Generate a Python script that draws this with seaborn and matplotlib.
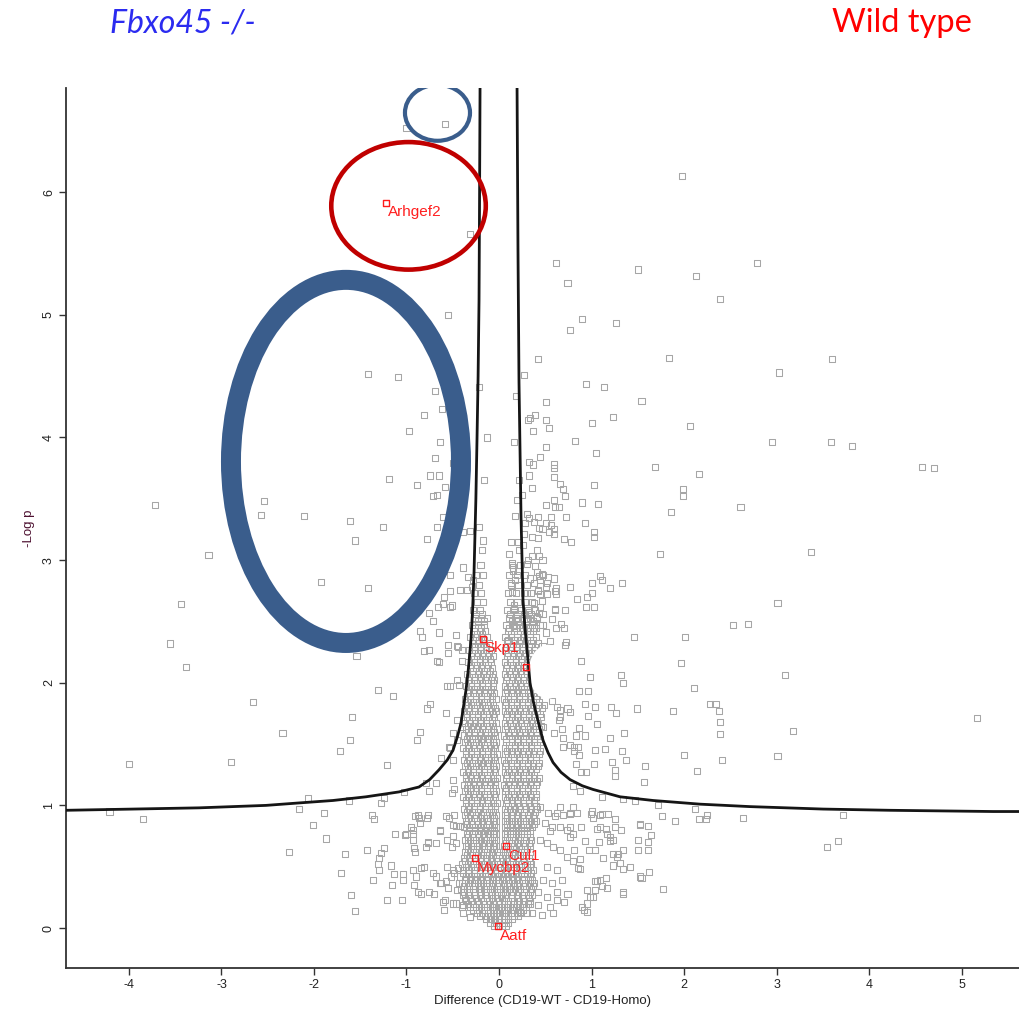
import matplotlib
matplotlib.use("Agg")
import matplotlib.pyplot as plt
import pandas as pd
import seaborn as sns
from matplotlib.patches import Ellipse

# ---------------------------------------------------------------- data
# dense core of the volcano: one list of differences per -log p level
core_levels = [0.02, 0.07, 0.12, 0.17, 0.22, 0.27, 0.32, 0.37, 0.42, 0.47, 0.52, 0.57,
               0.62, 0.67, 0.72, 0.77, 0.82, 0.87, 0.92, 0.97, 1.02, 1.07, 1.12, 1.17,
               1.22, 1.27, 1.32, 1.37, 1.42, 1.47, 1.52, 1.57, 1.62, 1.67, 1.72, 1.77,
               1.82, 1.87, 1.92, 1.97, 2.02, 2.07, 2.12, 2.17, 2.22, 2.27, 2.32, 2.37,
               2.42, 2.47, 2.53, 2.59, 2.66, 2.73, 2.80, 2.88, 2.96]
core_diffs = [
    [-0.05, -0.01, 0.03, 0.07],
    [-0.14, -0.09, -0.04, 0.00, 0.05, 0.10, 0.14],
    [-0.24, -0.18, -0.12, -0.07, -0.02, 0.03, 0.08, 0.13, 0.19, 0.24],
    [-0.31, -0.25, -0.19, -0.13, -0.08, -0.03, 0.02, 0.07, 0.12, 0.18, 0.23, 0.29],
    [-0.36, -0.30, -0.23, -0.17, -0.11, -0.06, 0.00, 0.05, 0.10, 0.16, 0.22, 0.27, 0.33],
    [-0.39, -0.33, -0.27, -0.21, -0.15, -0.09, -0.04, 0.02, 0.07, 0.13, 0.19, 0.25, 0.31, 0.36],
    [-0.41, -0.35, -0.28, -0.22, -0.16, -0.10, -0.05, 0.01, 0.06, 0.12, 0.17, 0.23, 0.29, 0.35],
    [-0.40, -0.34, -0.29, -0.23, -0.17, -0.11, -0.06, 0.00, 0.05, 0.11, 0.16, 0.22, 0.28, 0.34, 0.38],
    [-0.42, -0.36, -0.30, -0.24, -0.18, -0.12, -0.07, -0.01, 0.04, 0.10, 0.15, 0.21, 0.27, 0.33],
    [-0.39, -0.33, -0.27, -0.21, -0.15, -0.10, -0.04, 0.02, 0.08, 0.13, 0.19, 0.25, 0.31, 0.37],
    [-0.40, -0.34, -0.28, -0.22, -0.16, -0.11, -0.05, 0.01, 0.06, 0.12, 0.18, 0.24, 0.30, 0.35],
    [-0.38, -0.32, -0.26, -0.20, -0.14, -0.09, -0.03, 0.03, 0.08, 0.14, 0.20, 0.26, 0.32],
    [-0.37, -0.31, -0.25, -0.19, -0.13, -0.08, -0.02, 0.04, 0.09, 0.15, 0.21, 0.27, 0.33],
    [-0.36, -0.30, -0.24, -0.18, -0.12, -0.07, -0.03, 0.05, 0.10, 0.16, 0.22, 0.28, 0.34],
    [-0.37, -0.31, -0.25, -0.19, -0.14, -0.08, -0.03, 0.06, 0.11, 0.17, 0.23, 0.29, 0.35],
    [-0.35, -0.29, -0.23, -0.17, -0.12, -0.07, -0.03, 0.06, 0.12, 0.18, 0.24, 0.30],
    [-0.38, -0.32, -0.26, -0.20, -0.14, -0.08, -0.03, 0.07, 0.12, 0.18, 0.24, 0.30, 0.36],
    [-0.36, -0.30, -0.24, -0.18, -0.13, -0.07, -0.03, 0.06, 0.11, 0.17, 0.23, 0.29, 0.35, 0.40],
    [-0.37, -0.31, -0.25, -0.19, -0.13, -0.08, -0.03, 0.07, 0.13, 0.19, 0.25, 0.31, 0.37],
    [-0.38, -0.32, -0.27, -0.21, -0.15, -0.09, -0.04, 0.06, 0.12, 0.17, 0.23, 0.29, 0.35, 0.41],
    [-0.36, -0.30, -0.24, -0.18, -0.12, -0.06, -0.02, 0.08, 0.14, 0.20, 0.26, 0.32, 0.38],
    [-0.39, -0.33, -0.27, -0.21, -0.16, -0.10, -0.04, 0.06, 0.11, 0.17, 0.23, 0.29, 0.35, 0.40],
    [-0.37, -0.31, -0.25, -0.19, -0.13, -0.07, -0.03, 0.07, 0.13, 0.19, 0.25, 0.31, 0.37],
    [-0.38, -0.33, -0.28, -0.22, -0.16, -0.10, -0.04, 0.05, 0.10, 0.16, 0.22, 0.28, 0.34, 0.40],
    [-0.36, -0.30, -0.24, -0.18, -0.12, -0.06, -0.02, 0.08, 0.14, 0.20, 0.26, 0.32, 0.38, 0.43],
    [-0.39, -0.34, -0.28, -0.22, -0.16, -0.10, -0.04, 0.06, 0.11, 0.17, 0.23, 0.29, 0.35],
    [-0.37, -0.31, -0.25, -0.19, -0.13, -0.07, -0.03, 0.07, 0.13, 0.19, 0.25, 0.31, 0.37, 0.42],
    [-0.38, -0.32, -0.26, -0.20, -0.15, -0.09, -0.04, 0.05, 0.10, 0.16, 0.22, 0.28, 0.34, 0.40],
    [-0.36, -0.30, -0.24, -0.18, -0.12, -0.06, -0.02, 0.07, 0.13, 0.19, 0.25, 0.31, 0.37, 0.43],
    [-0.39, -0.33, -0.27, -0.21, -0.15, -0.09, -0.04, 0.06, 0.11, 0.17, 0.23, 0.29, 0.35, 0.41],
    [-0.37, -0.31, -0.25, -0.19, -0.13, -0.07, -0.03, 0.08, 0.14, 0.20, 0.26, 0.32, 0.38, 0.44],
    [-0.38, -0.32, -0.26, -0.20, -0.15, -0.09, -0.04, 0.05, 0.11, 0.17, 0.23, 0.29, 0.35, 0.41],
    [-0.36, -0.30, -0.24, -0.18, -0.12, -0.06, -0.02, 0.07, 0.13, 0.19, 0.25, 0.31, 0.37, 0.43],
    [-0.37, -0.31, -0.26, -0.20, -0.14, -0.08, -0.03, 0.06, 0.12, 0.18, 0.24, 0.30, 0.36, 0.42],
    [-0.35, -0.29, -0.23, -0.17, -0.11, -0.05, 0.08, 0.14, 0.20, 0.26, 0.32, 0.38, 0.45],
    [-0.38, -0.32, -0.26, -0.20, -0.14, -0.08, -0.03, 0.06, 0.11, 0.17, 0.23, 0.29, 0.35, 0.41],
    [-0.36, -0.30, -0.24, -0.18, -0.12, -0.06, 0.07, 0.13, 0.19, 0.25, 0.31, 0.37, 0.43, 0.49],
    [-0.37, -0.31, -0.25, -0.19, -0.13, -0.08, -0.03, 0.05, 0.10, 0.16, 0.22, 0.28, 0.34, 0.40],
    [-0.34, -0.28, -0.22, -0.16, -0.10, -0.05, 0.07, 0.13, 0.19, 0.25, 0.31, 0.37, 0.44],
    [-0.36, -0.30, -0.24, -0.18, -0.12, -0.06, 0.06, 0.12, 0.18, 0.24, 0.30, 0.36, 0.42, 0.48],
    [-0.33, -0.27, -0.21, -0.15, -0.09, -0.05, 0.08, 0.14, 0.20, 0.26, 0.32, 0.38, 0.44],
    [-0.35, -0.29, -0.23, -0.17, -0.11, -0.06, 0.06, 0.12, 0.18, 0.24, 0.30, 0.36, 0.42],
    [-0.31, -0.25, -0.19, -0.13, -0.08, 0.08, 0.14, 0.20, 0.26, 0.33, 0.39, 0.46],
    [-0.33, -0.27, -0.21, -0.15, -0.09, 0.06, 0.12, 0.18, 0.24, 0.30, 0.37, 0.43],
    [-0.30, -0.24, -0.18, -0.12, -0.07, 0.09, 0.15, 0.21, 0.27, 0.34, 0.40],
    [-0.32, -0.26, -0.20, -0.14, -0.09, 0.07, 0.13, 0.19, 0.25, 0.32, 0.38, 0.45],
    [-0.29, -0.23, -0.17, -0.11, 0.09, 0.15, 0.22, 0.28, 0.35, 0.42],
    [-0.31, -0.25, -0.19, -0.13, 0.07, 0.13, 0.20, 0.26, 0.33, 0.40],
    [-0.27, -0.21, -0.15, 0.10, 0.16, 0.23, 0.30, 0.37],
    [-0.29, -0.23, -0.16, 0.08, 0.15, 0.22, 0.29, 0.36, 0.44],
    [-0.26, -0.19, -0.13, 0.11, 0.18, 0.25, 0.33, 0.41],
    [-0.28, -0.21, 0.09, 0.16, 0.24, 0.31, 0.39],
    [-0.24, -0.17, 0.12, 0.20, 0.28, 0.36],
    [-0.27, -0.19, 0.10, 0.18, 0.27, 0.35],
    [-0.22, 0.13, 0.21, 0.30],
    [-0.25, -0.17, 0.11, 0.19, 0.28],
    [-0.20, 0.14, 0.23],
]

# second, staggered set of core levels filling between the first
core_levels_b = [0.045, 0.095, 0.145, 0.195, 0.245, 0.295, 0.345, 0.395, 0.445, 0.495,
                 0.545, 0.595, 0.645, 0.695, 0.745, 0.795, 0.845, 0.895, 0.945, 0.995,
                 1.045, 1.095, 1.145, 1.195, 1.245, 1.295, 1.345, 1.395, 1.445, 1.495,
                 1.545, 1.595, 1.645, 1.695, 1.745, 1.795, 1.845, 1.895, 1.945, 1.995,
                 2.045, 2.095, 2.145, 2.195, 2.245, 2.295, 2.345, 2.395, 2.445, 2.50, 2.56]
core_diffs_b = [
    [-0.10, -0.05, 0.00, 0.05, 0.10],
    [-0.20, -0.15, -0.10, -0.05, 0.00, 0.05, 0.10, 0.16, 0.21],
    [-0.28, -0.22, -0.16, -0.10, -0.05, 0.00, 0.05, 0.10, 0.15, 0.21, 0.26],
    [-0.34, -0.28, -0.22, -0.16, -0.10, -0.05, 0.00, 0.05, 0.10, 0.15, 0.20, 0.26, 0.31],
    [-0.37, -0.31, -0.25, -0.19, -0.13, -0.08, -0.02, 0.03, 0.08, 0.14, 0.20, 0.26, 0.32],
    [-0.38, -0.32, -0.26, -0.20, -0.14, -0.08, -0.02, 0.04, 0.09, 0.15, 0.21, 0.27, 0.33],
    [-0.38, -0.32, -0.26, -0.20, -0.14, -0.08, -0.02, 0.04, 0.09, 0.15, 0.20, 0.26, 0.32, 0.37],
    [-0.37, -0.31, -0.26, -0.20, -0.14, -0.08, -0.03, 0.03, 0.08, 0.14, 0.19, 0.25, 0.31, 0.36],
    [-0.39, -0.33, -0.27, -0.21, -0.15, -0.09, -0.04, 0.02, 0.07, 0.13, 0.18, 0.24, 0.30, 0.35],
    [-0.36, -0.30, -0.24, -0.18, -0.12, -0.07, -0.01, 0.05, 0.10, 0.16, 0.22, 0.28, 0.34],
    [-0.37, -0.31, -0.25, -0.19, -0.13, -0.08, -0.02, 0.04, 0.09, 0.15, 0.21, 0.27, 0.33],
    [-0.35, -0.29, -0.23, -0.17, -0.11, -0.06, 0.00, 0.06, 0.11, 0.17, 0.23, 0.29],
    [-0.34, -0.28, -0.22, -0.16, -0.10, -0.05, 0.07, 0.12, 0.18, 0.24, 0.30],
    [-0.34, -0.28, -0.22, -0.16, -0.11, -0.05, 0.08, 0.14, 0.20, 0.26, 0.32],
    [-0.34, -0.28, -0.22, -0.16, -0.10, -0.05, 0.09, 0.15, 0.21, 0.27, 0.33],
    [-0.32, -0.26, -0.20, -0.15, -0.10, -0.05, 0.09, 0.15, 0.21, 0.27, 0.33],
    [-0.35, -0.29, -0.23, -0.17, -0.11, -0.05, 0.09, 0.14, 0.20, 0.26, 0.32, 0.38],
    [-0.33, -0.27, -0.21, -0.16, -0.10, -0.05, 0.09, 0.14, 0.20, 0.26, 0.32, 0.38],
    [-0.35, -0.29, -0.23, -0.17, -0.11, -0.06, 0.09, 0.15, 0.21, 0.27, 0.33, 0.39],
    [-0.33, -0.27, -0.21, -0.15, -0.09, -0.04, 0.10, 0.16, 0.22, 0.28, 0.34, 0.40],
    [-0.36, -0.30, -0.24, -0.18, -0.13, -0.07, 0.09, 0.14, 0.20, 0.26, 0.32, 0.38],
    [-0.34, -0.28, -0.22, -0.16, -0.10, -0.05, 0.10, 0.16, 0.22, 0.28, 0.34, 0.40],
    [-0.35, -0.30, -0.25, -0.19, -0.13, -0.07, 0.08, 0.13, 0.19, 0.25, 0.31, 0.37],
    [-0.33, -0.27, -0.21, -0.15, -0.09, -0.04, 0.11, 0.17, 0.23, 0.29, 0.35, 0.41],
    [-0.36, -0.31, -0.25, -0.19, -0.13, -0.07, 0.09, 0.14, 0.20, 0.26, 0.32, 0.38],
    [-0.34, -0.28, -0.22, -0.16, -0.10, -0.05, 0.10, 0.16, 0.22, 0.28, 0.34, 0.40],
    [-0.35, -0.29, -0.23, -0.17, -0.12, -0.06, 0.08, 0.13, 0.19, 0.25, 0.31, 0.37, 0.43],
    [-0.33, -0.27, -0.21, -0.15, -0.09, -0.05, 0.10, 0.16, 0.22, 0.28, 0.34, 0.40],
    [-0.36, -0.30, -0.24, -0.18, -0.12, -0.06, 0.09, 0.14, 0.20, 0.26, 0.32, 0.38, 0.44],
    [-0.34, -0.28, -0.22, -0.16, -0.10, -0.05, 0.11, 0.17, 0.23, 0.29, 0.35, 0.41],
    [-0.35, -0.29, -0.23, -0.17, -0.12, -0.06, 0.08, 0.14, 0.20, 0.26, 0.32, 0.38, 0.44],
    [-0.33, -0.27, -0.21, -0.15, -0.09, -0.05, 0.10, 0.16, 0.22, 0.28, 0.34, 0.40],
    [-0.34, -0.28, -0.23, -0.17, -0.11, -0.06, 0.09, 0.15, 0.21, 0.27, 0.33, 0.39, 0.45],
    [-0.32, -0.26, -0.20, -0.14, -0.08, 0.11, 0.17, 0.23, 0.29, 0.35, 0.41],
    [-0.35, -0.29, -0.23, -0.17, -0.11, -0.06, 0.09, 0.14, 0.20, 0.26, 0.32, 0.38, 0.44],
    [-0.33, -0.27, -0.21, -0.15, -0.09, -0.04, 0.10, 0.16, 0.22, 0.28, 0.34, 0.40, 0.46],
    [-0.34, -0.28, -0.22, -0.16, -0.10, 0.08, 0.13, 0.19, 0.25, 0.31, 0.37, 0.43],
    [-0.31, -0.25, -0.19, -0.13, -0.08, 0.10, 0.16, 0.22, 0.28, 0.34, 0.41],
    [-0.33, -0.27, -0.21, -0.15, -0.09, 0.09, 0.15, 0.21, 0.27, 0.33, 0.39, 0.45],
    [-0.30, -0.24, -0.18, -0.12, -0.07, 0.11, 0.17, 0.23, 0.29, 0.35, 0.41],
    [-0.32, -0.26, -0.20, -0.14, -0.08, 0.09, 0.15, 0.21, 0.27, 0.33, 0.39],
    [-0.28, -0.22, -0.16, -0.10, 0.11, 0.17, 0.23, 0.30, 0.36, 0.43],
    [-0.30, -0.24, -0.18, -0.12, 0.09, 0.15, 0.21, 0.27, 0.34, 0.40],
    [-0.27, -0.21, -0.15, -0.10, 0.12, 0.18, 0.24, 0.31, 0.37],
    [-0.29, -0.23, -0.17, -0.11, 0.10, 0.16, 0.22, 0.29, 0.35, 0.42],
    [-0.26, -0.20, -0.14, 0.12, 0.19, 0.25, 0.32, 0.39],
    [-0.28, -0.22, -0.16, 0.10, 0.17, 0.23, 0.30, 0.37],
    [-0.24, -0.18, 0.13, 0.20, 0.27, 0.34],
    [-0.26, -0.19, 0.11, 0.18, 0.26, 0.33, 0.40],
    [-0.23, -0.16, 0.14, 0.21, 0.29, 0.37],
    [-0.25, -0.18, 0.12, 0.20, 0.27, 0.35],
]

# proteins away from the core: (difference, -log p)
top_points = [(-1.00, 6.52), (-0.58, 6.56), (-0.31, 5.66), (1.98, 6.13)]

right_upper = [
    (0.62, 5.42), (1.50, 5.37), (2.13, 5.32), (2.79, 5.42), (0.74, 5.26), (2.39, 5.13),
    (0.90, 4.97), (1.26, 4.93), (0.77, 4.88), (0.42, 4.64), (1.84, 4.65), (3.60, 4.64),
    (0.27, 4.51), (3.03, 4.53), (0.18, 4.34), (0.94, 4.44), (1.13, 4.41), (0.51, 4.29),
    (1.54, 4.30), (0.39, 4.18), (0.34, 4.16), (0.31, 4.14), (0.51, 4.14), (1.23, 4.17),
    (1.01, 4.12), (2.06, 4.09), (0.54, 4.08), (0.37, 4.05), (0.16, 3.96), (0.82, 3.97),
    (2.95, 3.96), (3.59, 3.96), (3.81, 3.93), (0.51, 3.92), (1.05, 3.87), (0.44, 3.84),
    (0.32, 3.80), (0.37, 3.78), (0.59, 3.78), (0.59, 3.75), (1.69, 3.76), (4.57, 3.76),
    (4.70, 3.75), (0.32, 3.69), (0.59, 3.68), (2.16, 3.70), (0.22, 3.65), (0.66, 3.62),
    (0.69, 3.58), (0.36, 3.59), (1.03, 3.61), (1.99, 3.58), (1.99, 3.52), (0.25, 3.53),
    (0.71, 3.52), (0.19, 3.49), (0.59, 3.49), (0.51, 3.45), (0.61, 3.43), (0.65, 3.43),
    (0.90, 3.47), (1.07, 3.46), (2.61, 3.43), (1.86, 3.39), (0.17, 3.36), (0.30, 3.38),
    (0.32, 3.34), (0.42, 3.35), (0.56, 3.35), (0.72, 3.35), (0.28, 3.30), (0.38, 3.31),
    (0.51, 3.30), (0.56, 3.29), (0.93, 3.30), (0.43, 3.26), (0.47, 3.25), (0.59, 3.25),
    (0.54, 3.23), (0.59, 3.21), (1.03, 3.23), (1.03, 3.19), (0.27, 3.21), (0.36, 3.19),
    (0.42, 3.18), (0.70, 3.17), (0.78, 3.15), (0.13, 3.15), (0.21, 3.15), (0.26, 3.12),
    (0.22, 3.08), (0.41, 3.08), (0.11, 3.05), (1.74, 3.05), (3.37, 3.07), (0.43, 3.03),
    (0.36, 3.03), (0.47, 3.00), (0.14, 2.98), (0.31, 3.00), (0.30, 2.97), (0.39, 2.95),
    (0.15, 2.94), (0.15, 2.91), (0.21, 2.91), (0.41, 2.90), (0.46, 2.89), (0.43, 2.87),
    (0.59, 2.85), (0.34, 2.85), (1.09, 2.87), (1.11, 2.84), (0.17, 2.84), (1.00, 2.81),
    (1.33, 2.81), (0.13, 2.81), (0.38, 2.81), (0.51, 2.78), (0.62, 2.77), (0.77, 2.78),
    (1.20, 2.77), (0.42, 2.75), (0.61, 2.75), (0.14, 2.74), (1.00, 2.73), (0.30, 2.73),
    (0.44, 2.72), (0.62, 2.72), (0.95, 2.70), (0.84, 2.68), (0.38, 2.65), (0.16, 2.63),
    (0.16, 2.60), (0.94, 2.62), (1.03, 2.62), (3.01, 2.65), (0.61, 2.59), (0.71, 2.59),
    (0.32, 2.58), (0.43, 2.57), (0.47, 2.56), (0.19, 2.53), (0.41, 2.54), (0.31, 2.52),
    (2.53, 2.47), (2.69, 2.48), (0.62, 2.45), (0.70, 2.45), (0.47, 2.47), (0.16, 2.46),
    (0.38, 2.45), (1.46, 2.37), (2.01, 2.37), (0.71, 2.31), (0.51, 2.41), (0.09, 2.34),
    (0.55, 2.34), (0.47, 2.30), (0.48, 2.88), (0.53, 2.86), (0.44, 2.84), (0.52, 2.81),
    (0.42, 2.76), (0.52, 2.72), (0.46, 2.67), (0.61, 2.60), (0.44, 2.62), (0.57, 2.52),
    (0.67, 2.48), (0.72, 2.33),
]

right_lower = [
    (0.89, 2.18), (1.97, 2.16), (3.09, 2.06), (0.98, 2.05), (1.32, 2.06), (1.34, 2.00),
    (2.11, 1.96), (0.86, 1.93), (0.96, 1.93), (0.93, 1.83), (1.04, 1.80), (1.21, 1.80),
    (1.26, 1.75), (1.49, 1.79), (1.88, 1.77), (2.28, 1.83), (2.34, 1.83), (2.38, 1.77),
    (5.17, 1.71), (0.66, 1.78), (0.77, 1.76), (0.96, 1.73), (0.65, 1.70), (2.39, 1.68),
    (1.06, 1.66), (0.86, 1.63), (0.68, 1.62), (3.18, 1.61), (2.39, 1.58), (1.35, 1.59),
    (0.83, 1.57), (0.93, 1.57), (1.20, 1.55), (0.69, 1.55), (0.77, 1.49), (0.81, 1.48),
    (0.85, 1.48), (0.69, 1.48), (1.04, 1.45), (1.15, 1.46), (1.33, 1.44), (0.81, 1.44),
    (0.86, 1.41), (2.00, 1.41), (3.01, 1.40), (2.41, 1.37), (1.37, 1.37), (1.22, 1.35),
    (1.03, 1.34), (0.83, 1.34), (1.58, 1.32), (1.25, 1.29), (1.25, 1.24), (2.14, 1.28),
    (0.89, 1.27), (0.94, 1.27), (1.57, 1.19), (0.80, 1.16), (0.88, 1.12), (1.11, 1.07),
    (1.34, 1.05), (1.47, 1.04), (1.72, 1.00), (2.12, 0.97), (3.72, 0.92), (2.64, 0.90),
    (1.76, 0.91), (1.90, 0.87), (2.16, 0.89), (2.24, 0.89), (2.25, 0.92), (0.66, 0.99),
    (0.77, 0.93), (0.84, 0.94), (0.99, 0.93), (1.11, 0.93), (1.18, 0.93), (0.61, 0.91),
    (1.02, 0.90), (1.25, 0.89), (3.54, 0.66), (3.66, 0.71), (1.52, 0.85), (1.61, 0.83),
    (0.77, 0.82), (0.89, 0.82), (1.06, 0.81), (1.16, 0.81), (1.25, 0.82), (1.32, 0.80),
    (0.55, 0.79), (1.64, 0.76), (1.61, 0.70), (1.50, 0.64), (1.34, 0.64), (1.20, 0.74),
    (1.20, 0.71), (1.08, 0.70), (0.93, 0.71), (0.77, 0.74), (0.81, 0.64), (0.97, 0.64),
    (1.04, 0.64), (0.88, 0.56), (1.12, 0.57), (1.23, 0.60), (1.29, 0.60), (1.23, 0.51),
    (1.34, 0.48), (1.62, 0.46), (1.54, 0.41), (1.34, 0.28), (1.77, 0.32), (1.04, 0.38),
    (1.06, 0.38), (1.16, 0.41), (1.11, 0.34), (0.85, 0.49), (0.88, 0.48), (1.04, 0.31),
    (0.95, 0.20), (0.92, 0.15), (0.98, 0.25), (0.74, 0.28), (0.70, 0.21), (0.63, 0.23),
    (0.58, 0.12), (0.46, 0.11), (0.36, 0.12), (0.57, 1.85), (0.63, 1.80), (0.74, 1.79),
    (0.66, 1.72), (0.48, 1.64), (0.59, 1.59), (0.44, 1.52),
    (0.44, 0.99), (0.53, 0.94), (0.63, 0.94), (0.69, 0.92), (0.77, 0.94), (0.80, 0.99),
    (1.00, 0.95), (1.09, 0.92), (0.50, 0.86), (0.57, 0.82), (0.66, 0.82), (0.73, 0.80),
    (0.80, 0.77), (0.44, 0.72), (0.52, 0.69), (0.58, 0.66), (0.66, 0.64), (0.73, 0.58),
    (0.80, 0.55), (0.52, 0.50), (0.63, 0.47), (0.48, 0.39), (0.57, 0.37), (0.68, 0.39),
    (0.42, 0.29), (0.52, 0.25), (0.63, 0.29), (0.34, 0.20), (0.42, 0.19), (0.55, 0.17),
    (0.23, 0.13), (0.30, 0.12), (1.09, 0.82), (1.17, 0.77), (1.23, 0.72), (1.28, 0.58),
    (1.31, 0.53), (1.42, 0.50), (1.09, 0.39), (1.17, 0.33), (0.95, 0.31), (1.02, 0.25),
    (0.90, 0.17), (0.95, 0.13), (1.52, 0.84), (1.61, 0.64), (1.50, 0.72), (1.52, 0.42),
    (1.34, 0.29),
]

left_upper = [
    (-3.72, 3.45), (-3.14, 3.04), (-3.44, 2.64), (-3.56, 2.32), (-3.38, 2.13), (-4.00, 1.34),
    (-2.90, 1.35), (-2.66, 1.84), (-2.34, 1.59), (-4.21, 0.95), (-3.85, 0.89),
    (-2.54, 3.48), (-2.57, 3.37), (-2.11, 3.36), (-1.61, 3.32), (-1.25, 3.27), (-1.56, 3.16),
    (-1.92, 2.82), (-1.42, 2.77), (-1.54, 2.22), (-1.31, 1.94), (-1.15, 1.89), (-1.59, 1.72),
    (-1.61, 1.53), (-1.72, 1.44), (-1.21, 1.33), (-1.42, 4.52), (-1.09, 4.49), (-0.97, 4.05),
    (-1.19, 3.66), (-0.89, 3.61), (-0.55, 5.00), (-0.22, 4.41), (-0.13, 4.00), (-0.16, 3.65),
    (-0.69, 4.38), (-0.62, 4.23), (-0.81, 4.18), (-0.64, 3.96), (-0.69, 3.83), (-0.75, 3.69),
    (-0.65, 3.69), (-0.58, 3.60), (-0.71, 3.52), (-0.67, 3.53), (-0.61, 3.35), (-0.67, 3.27),
    (-0.78, 3.17), (-0.50, 3.79), (-0.39, 3.23), (-0.31, 3.24), (-0.22, 3.27), (-0.17, 3.16),
    (-0.18, 3.08), (-0.85, 1.60), (-0.89, 1.53), (-0.78, 1.79), (-0.75, 1.83), (-0.57, 1.75),
    (-0.63, 1.39), (-0.85, 2.42), (-0.83, 2.37), (-0.65, 2.41), (-0.81, 2.26), (-0.76, 2.27),
    (-0.67, 2.18), (-0.65, 2.17), (-0.55, 2.31), (-0.55, 2.24), (-0.44, 2.29), (-0.59, 2.70),
    (-0.53, 2.75), (-0.76, 2.57), (-0.66, 2.62), (-0.51, 2.63), (-0.46, 2.39), (-0.56, 1.97),
    (-0.53, 1.97), (-0.45, 2.02), (-0.79, 1.18), (-0.76, 1.12), (-0.68, 1.18), (-0.54, 1.48),
    (-0.50, 1.37), (-0.53, 2.88), (-0.39, 2.94), (-0.34, 2.86), (-0.28, 2.84), (-0.42, 2.76),
    (-0.35, 2.76), (-0.29, 2.78), (-0.61, 2.64), (-0.53, 2.62), (-0.71, 2.50), (-0.45, 2.30),
    (-0.40, 2.27), (-0.40, 2.18), (-0.43, 1.98), (-0.45, 1.70), (-0.40, 1.64), (-0.50, 1.59),
    (-0.45, 1.53), (-0.53, 1.47), (-0.50, 1.21), (-0.49, 1.13), (-0.51, 1.10),
]

left_lower = [
    (-1.03, 1.11), (-1.28, 1.02), (-1.24, 1.06), (-1.62, 1.04), (-2.06, 1.06), (-2.16, 0.97),
    (-1.89, 0.94), (-2.01, 0.84), (-1.87, 0.73), (-1.37, 0.92), (-1.35, 0.89), (-2.27, 0.62),
    (-1.66, 0.60), (-1.71, 0.45), (-1.60, 0.27), (-1.56, 0.14), (-1.43, 0.64), (-1.36, 0.39),
    (-1.30, 0.47), (-1.31, 0.52), (-1.30, 0.57), (-1.28, 0.61), (-1.24, 0.65), (-1.21, 0.23),
    (-1.05, 0.23), (-1.17, 0.51), (-1.14, 0.44), (-1.16, 0.35), (-1.04, 0.44), (-1.04, 0.39),
    (-1.12, 0.77), (-1.02, 0.76), (-0.95, 0.82), (-0.93, 0.77), (-0.93, 0.72), (-0.91, 0.91),
    (-0.86, 0.90), (-0.85, 0.86), (-0.77, 0.92), (-0.92, 0.65), (-0.91, 0.62), (-0.79, 0.66),
    (-0.77, 0.70), (-0.68, 0.69), (-0.93, 0.47), (-0.90, 0.42), (-0.84, 0.49), (-0.81, 0.50),
    (-0.92, 0.35), (-0.88, 0.29), (-0.84, 0.28), (-0.76, 0.29), (-0.70, 0.28), (-0.61, 0.21),
    (-0.59, 0.15), (-0.71, 0.45), (-0.68, 0.42), (-0.63, 0.37), (-0.57, 0.38), (-0.52, 0.42),
    (-0.49, 0.45), (-0.44, 0.49), (-0.54, 0.90), (-0.49, 0.92), (-0.50, 0.84), (-0.46, 0.83),
    (-0.42, 0.83), (-0.64, 0.79), (-0.50, 0.75), (-0.46, 0.69), (-0.57, 0.91), (-0.46, 0.20),
    (-0.39, 0.19), (-0.39, 0.12), (-0.36, 0.23), (-0.43, 0.37), (-0.39, 0.29), (-0.88, 0.92),
    (-0.78, 0.90), (-0.93, 0.80), (-1.00, 0.77), (-0.77, 0.69), (-0.64, 0.80), (-0.56, 0.72),
    (-0.51, 0.66), (-0.56, 0.50), (-0.50, 0.47), (-0.64, 0.37), (-0.55, 0.33), (-0.45, 0.31),
    (-0.58, 0.23), (-0.50, 0.20), (-0.40, 0.17), (-0.31, 0.09),
]

# highlighted proteins
hit_genes = ["Arhgef2", "Skp1", "", "Cul1", "Mycbp2", "Aatf"]
hit_diff = [-1.225, -0.176, 0.292, 0.076, -0.259, -0.011]
hit_logp = [5.915, 2.36, 2.13, 0.671, 0.568, 0.016]

# significance threshold curves (FDR lines)
left_curve_x = [-0.205, -0.210, -0.216, -0.226, -0.238, -0.250, -0.270, -0.285, -0.303,
                -0.330, -0.357, -0.411, -0.450, -0.497, -0.560, -0.649, -0.750, -0.865,
                -1.081, -1.438, -1.795, -2.162, -2.519, -3.243, -3.957, -4.68]
left_curve_y = [6.85, 6.00, 5.12, 4.50, 3.98, 3.50, 2.90, 2.60, 2.35, 2.12, 1.94, 1.67,
                1.56, 1.45, 1.37, 1.29, 1.21, 1.15, 1.11, 1.07, 1.04, 1.02, 1.00, 0.98,
                0.97, 0.96]
right_curve_x = [0.195, 0.205, 0.216, 0.238, 0.259, 0.280, 0.303, 0.335, 0.370, 0.411,
                 0.476, 0.530, 0.584, 0.670, 0.768, 0.900, 1.016, 1.308, 1.665, 2.173,
                 2.714, 3.503, 4.227, 5.341, 5.62]
right_curve_y = [6.85, 5.53, 4.45, 3.35, 2.68, 2.45, 2.27, 2.00, 1.85, 1.72, 1.53, 1.43,
                 1.35, 1.27, 1.21, 1.16, 1.13, 1.07, 1.04, 1.01, 0.99, 0.97, 0.96, 0.95, 0.95]

x_ticks = [-4, -3, -2, -1, 0, 1, 2, 3, 4, 5]
y_ticks = [0, 1, 2, 3, 4, 5, 6]

# ---------------------------------------------------------------- frame
rows = []
for levels, diffs in ((core_levels, core_diffs), (core_levels_b, core_diffs_b)):
    for lvl, xs in zip(levels, diffs):
        rows += [(x, lvl) for x in xs]
for group in (top_points, right_upper, right_lower, left_upper, left_lower):
    rows += list(group)
proteins = pd.DataFrame(rows, columns=["difference", "neglogp"])

sns.set_theme(style="white")
plt.rcParams["font.family"] = ["Liberation Sans", "DejaVu Sans"]

W, H = 1019, 1013
fig = plt.figure(figsize=(W / 100, H / 100), dpi=100)
ax = fig.add_axes([66 / W, 45 / H, (W - 66) / W, 880 / H])

sns.scatterplot(data=proteins, x="difference", y="neglogp", marker="s", s=19,
                facecolors="none", edgecolors="#a6a6a6", linewidths=0.75,
                ax=ax, zorder=2)

# white patch hiding an erased label
ax.add_patch(Ellipse((0.53, 2.09), 0.42, 0.44, facecolor="white", edgecolor="none", zorder=2.5))

sns.lineplot(x=left_curve_x, y=left_curve_y, sort=False, estimator=None,
             color="#151515", lw=2.0, ax=ax, zorder=3)
sns.lineplot(x=right_curve_x, y=right_curve_y, sort=False, estimator=None,
             color="#151515", lw=2.0, ax=ax, zorder=3)

sns.scatterplot(x=hit_diff, y=hit_logp, marker="s", s=19, facecolors="none",
                edgecolors="#ff1a1a", linewidths=1.0, ax=ax, zorder=4)
for g, x, y in zip(hit_genes, hit_diff, hit_logp):
    if g:
        ax.annotate(g, (x, y), xytext=(1.5, -2), textcoords="offset points",
                    ha="left", va="top", color="#ff2020", fontsize=11, zorder=4)

# highlight ellipses
ax.add_patch(Ellipse((-1.654, 3.805), 2.486, 2.961, fill=False, edgecolor="#3a5d8c",
                     lw=14.4, zorder=5))
ax.add_patch(Ellipse((-0.978, 5.889), 1.670, 1.040, fill=False, edgecolor="#c00000",
                     lw=3.3, zorder=5))
ax.add_patch(Ellipse((-0.665, 6.648), 0.703, 0.457, fill=False, edgecolor="#3a5d8c",
                     lw=3.0, zorder=5))

ax.set_xlim(-4.68, 5.62)
ax.set_ylim(-0.326, 6.85)
ax.set_xticks(x_ticks)
ax.set_xticklabels([str(t) for t in x_ticks])
ax.set_yticks(y_ticks)
ax.set_yticklabels([str(t) for t in y_ticks], rotation=90, va="center")
ax.tick_params(axis="both", which="both", bottom=True, left=True, direction="out",
               length=5, width=1.0, color="#333333", labelsize=9, labelcolor="#222222",
               pad=3)
ax.set_xlabel("Difference (CD19-WT - CD19-Homo)", fontsize=9.5, color="#222222", labelpad=3)
ax.set_ylabel("-Log p", fontsize=9.5, color="#4d1030", labelpad=6)
for side in ("top", "right"):
    ax.spines[side].set_visible(False)
for side in ("left", "bottom"):
    ax.spines[side].set_color("#333333")
    ax.spines[side].set_linewidth(1.3)
ax.grid(False)

fig.text(183 / W, 1 - 23 / H, "Fbxo45 -/-", fontsize=23, style="italic", color="#2b2bf0",
         ha="center", va="center", family=["Lato", "DejaVu Sans"])
fig.text(902 / W, 1 - 23 / H, "Wild type", fontsize=23.5, color="#ff0000",
         ha="center", va="center", family=["Lato", "DejaVu Sans"])

fig.savefig("out.png", dpi=100, facecolor="white")
